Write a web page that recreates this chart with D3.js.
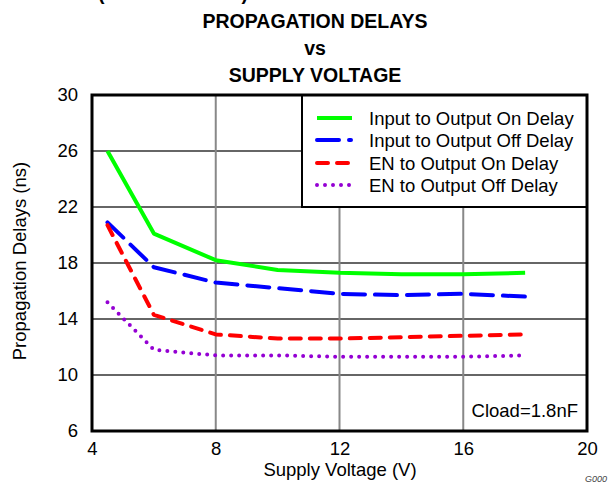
<!DOCTYPE html>
<html><head><meta charset="utf-8">
<script src="https://cdn.jsdelivr.net/npm/d3@7"></script>
<style>body{margin:0;background:#fff}svg{display:block;font-family:"Liberation Sans",Arial,sans-serif}</style>
</head><body><svg id="c" width="609" height="483"></svg>
<script>
const supplyVoltage = [4.5, 6, 8, 10, 12, 14, 16, 18];
const inOutOn  = [26.0, 20.1, 18.2, 17.5, 17.3, 17.2, 17.2, 17.3];
const inOutOff = [20.9, 17.7, 16.6, 16.2, 15.8, 15.7, 15.8, 15.6];
const enOutOn  = [20.7, 14.3, 12.9, 12.6, 12.6, 12.7, 12.8, 12.9];
const enOutOff = [15.2, 11.8, 11.4, 11.4, 11.3, 11.3, 11.3, 11.4];
const xTicks = [4, 8, 12, 16, 20];
const yTicks = [6, 10, 14, 18, 22, 26, 30];
const seriesNames = ["Input to Output On Delay","Input to Output Off Delay","EN to Output On Delay","EN to Output Off Delay"];

const svg = d3.select("#c");
const L=92, R=587, T=95, B=431;
const FS = 18.5;
const x = d3.scaleLinear().domain([4,20]).range([L,R]);
const y = d3.scaleLinear().domain([6,30]).range([B,T]);

// titles
svg.append("text").attr("x",98).attr("y",0).attr("textLength",150).attr("lengthAdjust","spacing")
  .attr("font-weight","bold").attr("font-size",19.5).text("(continued)");
const titles = [["PROPAGATION DELAYS",28],["vs",55],["SUPPLY VOLTAGE",82]];
titles.forEach(([t,yy])=>svg.append("text").attr("x",315).attr("y",yy).attr("text-anchor","middle")
  .attr("font-weight","bold").attr("font-size",19.5).text(t));

// grid
const g = svg.append("g");
g.selectAll(".hg").data(yTicks.filter(v=>v>6&&v<30)).join("line")
  .attr("x1",L).attr("x2",R).attr("y1",d=>y(d)).attr("y2",d=>y(d))
  .attr("stroke","#333").attr("stroke-width",1.5);
g.selectAll(".vg").data(xTicks.filter(v=>v>4&&v<20)).join("line")
  .attr("y1",T).attr("y2",B).attr("x1",d=>x(d)).attr("x2",d=>x(d))
  .attr("stroke","#888").attr("stroke-width",2);

// axes (labels only)
const xAxis = d3.axisBottom(x).tickValues(xTicks).tickSize(0).tickPadding(11).tickFormat(d3.format("d"));
const ax = svg.append("g").attr("transform",`translate(0,${B})`).call(xAxis);
ax.select(".domain").remove();
ax.selectAll("text").attr("font-size",FS).attr("font-family","Liberation Sans, Arial, sans-serif").attr("fill","#000");
const yAxis = d3.axisLeft(y).tickValues(yTicks).tickSize(0).tickPadding(14).tickFormat(d3.format("d"));
const ay = svg.append("g").attr("transform",`translate(${L},0)`).call(yAxis);
ay.select(".domain").remove();
ay.selectAll("text").attr("font-size",FS).attr("font-family","Liberation Sans, Arial, sans-serif").attr("fill","#000");

svg.append("text").attr("x",340).attr("y",476).attr("text-anchor","middle").attr("font-size",FS).text("Supply Voltage (V)");
svg.append("text").attr("transform","translate(26,261) rotate(-90)").attr("text-anchor","middle").attr("font-size",FS).text("Propagation Delays (ns)");

// series
const styles = [
  {data:inOutOn, color:"#00ff00", dash:null, cap:"butt"},
  {data:inOutOff, color:"#0000ff", dash:"22,10", cap:"round"},
  {data:enOutOn, color:"#ff0000", dash:"11,9", cap:"round"},
  {data:enOutOff, color:"#9400d3", dash:"0,8", cap:"round"}
];
const line = d3.line().x((d,i)=>x(supplyVoltage[i])).y(d=>y(d));
styles.forEach(s=>{
  svg.append("path").attr("d",line(s.data)).attr("fill","none").attr("stroke",s.color)
    .attr("stroke-width",4).attr("stroke-dasharray",s.dash).attr("stroke-linecap",s.cap).attr("stroke-linejoin","round");
});

// Cload box
svg.append("rect").attr("x",466).attr("y",388).attr("width",R-466).attr("height",B-388).attr("fill","#fff");
svg.append("text").attr("x",578).attr("y",417).attr("text-anchor","end").attr("font-size",FS).text("Cload=1.8nF");

// legend
svg.append("rect").attr("x",302).attr("y",T).attr("width",R-302).attr("height",207-T)
  .attr("fill","#fff").attr("stroke","#000").attr("stroke-width",2);
const legY = [118,140,163,185];
styles.forEach((s,i)=>{
  svg.append("line").attr("x1",317).attr("x2", i==1?351:352).attr("y1",legY[i]).attr("y2",legY[i])
    .attr("stroke",s.color).attr("stroke-width",4).attr("stroke-dasharray",s.dash).attr("stroke-linecap",s.cap);
  svg.append("text").attr("x",369).attr("y",legY[i]+6.5).attr("font-size",FS).text(seriesNames[i]);
});

// frame
svg.append("rect").attr("x",L).attr("y",T).attr("width",R-L).attr("height",B-T)
  .attr("fill","none").attr("stroke","#000").attr("stroke-width",3);

svg.append("text").attr("x",585).attr("y",482).attr("font-size",9).attr("font-style","italic").attr("fill","#444").text("G000");
</script></body></html>
